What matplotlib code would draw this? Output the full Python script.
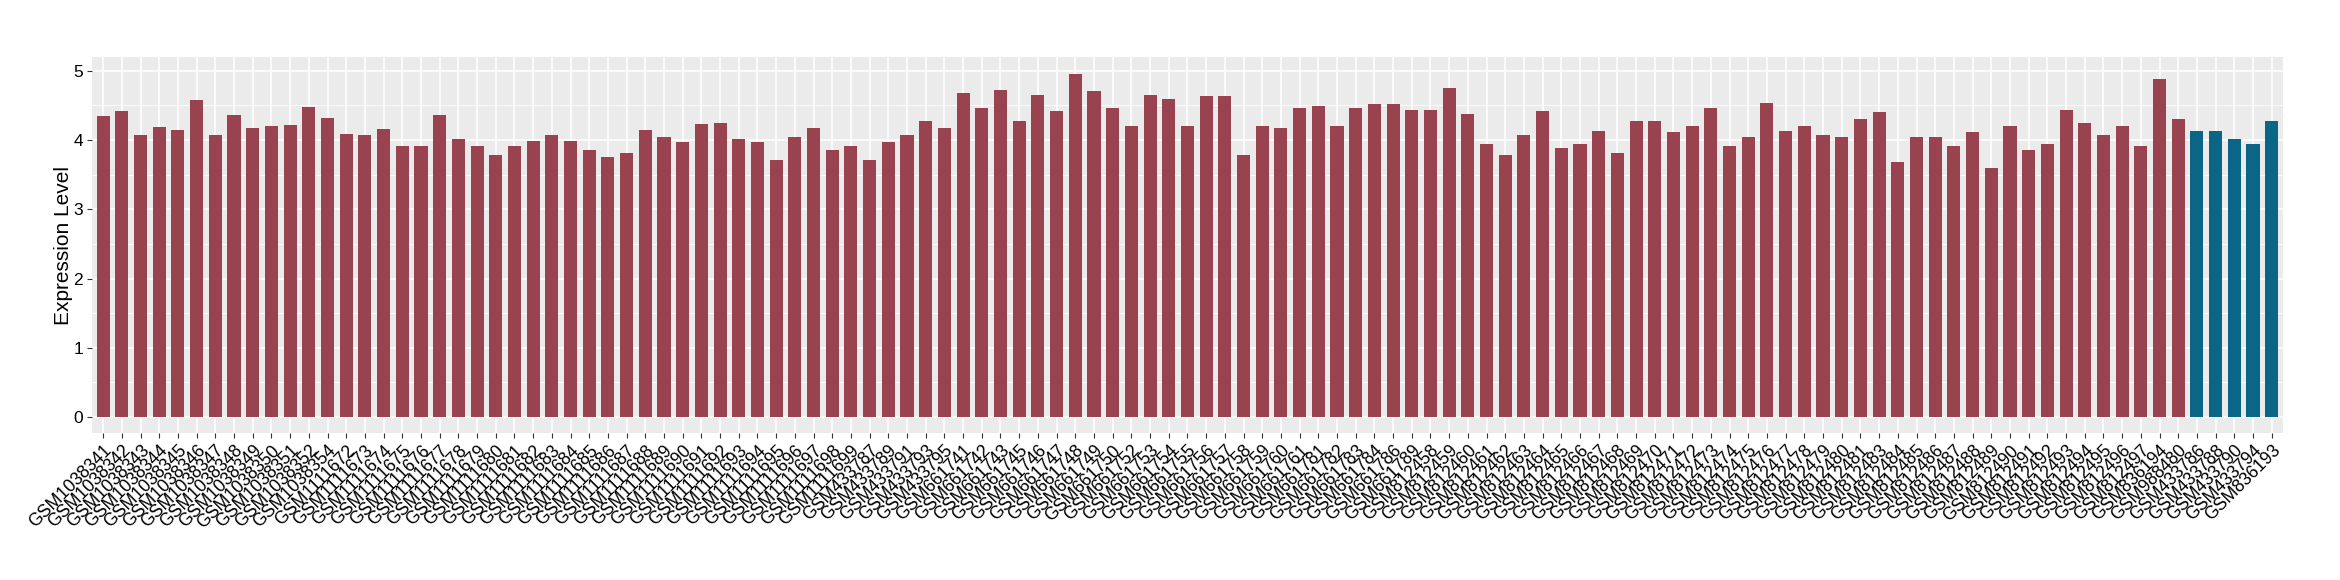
import matplotlib
matplotlib.use("Agg")
import matplotlib.pyplot as plt
from matplotlib.ticker import MultipleLocator

# Sample names (x axis)
samples = (
    ["GSM10383%d" % n for n in [41, 42, 43, 44, 45, 46, 47, 48, 49, 50, 51, 52, 54]]
    + ["GSM11116%d" % n for n in range(72, 100)]
    + ["GSM4337%d" % n for n in [87, 89, 91, 93, 95]]
    + ["GSM6617%d" % n for n in [41, 42, 43, 45, 46, 47, 48, 49, 50, 52, 53, 54, 55,
                                 56, 57, 58, 59, 60, 61, 81, 82, 83, 84, 86, 89]]
    + ["GSM812%d" % n for n in list(range(458, 482)) + list(range(483, 498))]
    + ["GSM836194", "GSM988480"]
    + ["GSM433786", "GSM433788", "GSM433790", "GSM433794", "GSM836193"]
)

# Expression level per sample
expression = [
    4.35, 4.42, 4.07, 4.19, 4.15, 4.58, 4.07, 4.36, 4.18, 4.21, 4.22, 4.48, 4.32,
    4.09, 4.07, 4.16, 3.91, 3.92, 4.36, 4.01, 3.92, 3.79, 3.92, 3.98, 4.07, 3.98,
    3.85, 3.76, 3.82, 4.15, 4.05, 3.97, 4.23, 4.24, 4.01, 3.97, 3.71, 4.05, 4.18,
    3.86, 3.91, 3.72, 3.97, 4.07, 4.27, 4.17,
    4.68, 4.46, 4.72, 4.27, 4.65, 4.42, 4.95, 4.71, 4.47, 4.21, 4.65, 4.59, 4.21,
    4.63, 4.63, 3.78, 4.20, 4.18, 4.46, 4.49, 4.21, 4.47, 4.52, 4.52, 4.43,
    4.43, 4.75, 4.37, 3.95, 3.79, 4.07, 4.42, 3.88, 3.94, 4.13, 3.81, 4.28, 4.28,
    4.11, 4.21, 4.47, 3.92, 4.05, 4.53, 4.13, 4.21, 4.07, 4.05, 4.30, 4.40, 3.69,
    4.04, 4.05, 3.92, 4.11, 3.60, 4.20, 3.86, 3.94, 4.43, 4.24, 4.07, 4.20, 3.91,
    4.88, 4.30,
    4.13, 4.13, 4.02, 3.94, 4.28,
]

# Group of each sample: first 112 are group A, last 5 group B
group = ["A"] * 112 + ["B"] * 5
colors = {"A": "#9A4350", "B": "#0B6587"}

plt.rcParams["font.family"] = ["Liberation Sans", "DejaVu Sans"]

fig = plt.figure(figsize=(23.4, 5.8), dpi=100)
ax = fig.add_axes([0.0393, 0.2534, 0.9363, 0.6483])

x = range(len(samples))
ax.bar(x, expression, width=0.7, color=[colors[g] for g in group], zorder=3)

ax.set_facecolor("#EBEBEB")
for s in ax.spines.values():
    s.set_visible(False)

ax.set_xlim(-0.6, len(samples) - 0.4)
ax.set_ylim(-0.23, 5.2)
ax.yaxis.set_major_locator(MultipleLocator(1))
ax.yaxis.set_minor_locator(MultipleLocator(0.5))
ax.grid(which="major", color="white", linewidth=1.1, zorder=0)
ax.grid(which="minor", axis="y", color="white", linewidth=0.55, zorder=0)
ax.tick_params(axis="y", which="minor", length=0)

ax.set_xticks(list(x))
ax.set_xticklabels(samples, rotation=45, ha="right", va="top",
                   rotation_mode="anchor", fontsize=12.7, color="black")
ax.tick_params(axis="both", which="major", length=3.5, width=0.8,
               color="#333333", pad=3)
for lab in ax.get_yticklabels():
    lab.set_fontsize(12.5)
    lab.set_color("black")

ax.set_ylabel("Expression Level", fontsize=15, va="center")
ax.yaxis.set_label_coords(-28 / 2191, 0.5)

fig.savefig("out.png", dpi=100)
